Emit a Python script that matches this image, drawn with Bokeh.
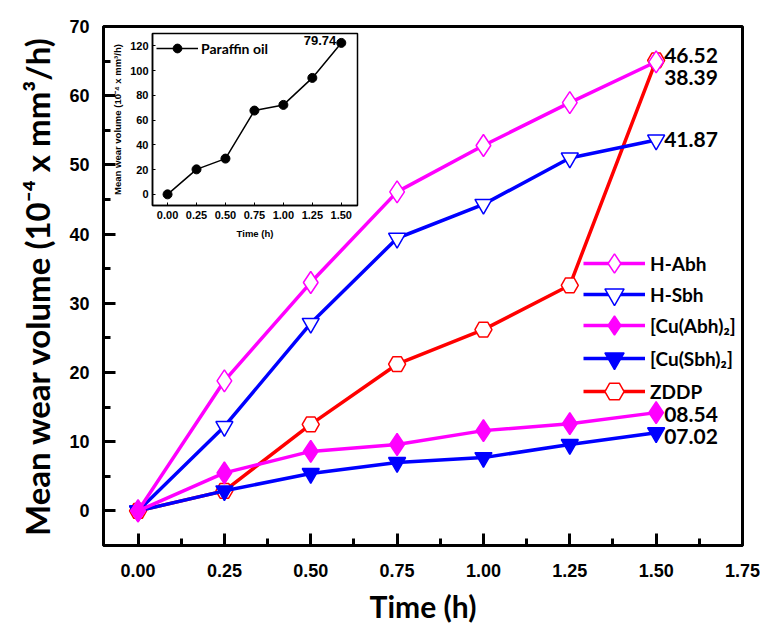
from bokeh.plotting import figure
from bokeh.models import FixedTicker, Legend, LegendItem, ColumnDataSource
from bokeh.layouts import column
from bokeh.embed import file_html
from bokeh.resources import INLINE
from bokeh.core.properties import value

# ---------------- data ----------------
time_h = [0.0, 0.25, 0.5, 0.75, 1.0, 1.25, 1.5]
h_abh = [0.0, 18.8, 33.0, 46.1, 52.8, 59.0, 64.9]
h_sbh = [0.0, 12.2, 27.1, 39.4, 44.3, 51.0, 53.6]
cu_abh = [0.0, 5.5, 8.6, 9.6, 11.6, 12.6, 14.2]
cu_sbh = [0.0, 2.9, 5.4, 7.0, 7.7, 9.6, 11.3]
zddp = [0.0, 2.9, 12.5, 21.2, 26.2, 32.6, 65.1]
paraffin = [0.0, 20.2, 28.9, 67.7, 72.3, 94.1, 122.4]

series_names = ["H-Abh", "H-Sbh", "[Cu(Abh)\u2082]", "[Cu(Sbh)\u2082]", "ZDDP"]
end_labels_top = ["46.52", "38.39"]
end_labels_h_sbh = ["41.87"]
end_labels_cu_abh = ["08.54"]
end_labels_cu_sbh = ["07.02"]
paraffin_label = ["79.74"]

x_ticks = [0.0, 0.25, 0.5, 0.75, 1.0, 1.25, 1.5, 1.75]
y_ticks = [0, 10, 20, 30, 40, 50, 60, 70]
inset_x_ticks = [0.0, 0.25, 0.5, 0.75, 1.0, 1.25, 1.5]
inset_y_ticks = [0, 20, 40, 60, 80, 100, 120]

MAG = "#FF00FF"
BLU = "#0000FF"
RED = "#FF0000"
TICK_FONT = "Liberation Sans"
LAB_FONT = "Lato"

# ---------------- main figure ----------------
p = figure(width=760, height=626, x_range=(-0.1, 1.75), y_range=(-5, 70),
           output_backend="svg", toolbar_location=None,
           min_border_left=103, min_border_right=18, min_border_top=26, min_border_bottom=79)
p.xgrid.visible = False
p.ygrid.visible = False
p.outline_line_color = "black"
p.outline_line_width = 3
p.outline_line_alpha = 1

for ax in (p.xaxis, p.yaxis):
    ax.axis_line_width = 3
    ax.major_tick_in = 12
    ax.major_tick_out = 0
    ax.minor_tick_in = 7
    ax.minor_tick_out = 0
    ax.major_tick_line_width = 3
    ax.minor_tick_line_width = 3
    ax.major_label_text_font = TICK_FONT
    ax.major_label_text_font_style = "bold"
    ax.major_label_text_font_size = "18px"
    ax.major_label_text_color = "black"
    ax.axis_label_text_font = LAB_FONT
    ax.axis_label_text_font_style = "bold"
    ax.axis_label_text_color = "black"

p.xaxis.axis_label_text_font_size = "30px"
p.yaxis.axis_label_text_font_size = "33px"
p.xaxis.ticker = FixedTicker(ticks=x_ticks, minor_ticks=[t + 0.125 for t in x_ticks[:-1]])
p.yaxis.ticker = FixedTicker(ticks=y_ticks, minor_ticks=[t + 5 for t in y_ticks[:-1]])
p.xaxis.major_label_overrides = {t: f"{t:.2f}" for t in x_ticks}
p.xaxis.major_label_standoff = 18
p.yaxis.major_label_standoff = 14
p.xaxis.axis_label = "Time (h)"
p.yaxis.axis_label = "Mean wear volume (10\u207b\u2074 x mm\u00b3/h)"
p.xaxis.axis_label_standoff = 8
p.yaxis.axis_label_standoff = 9

src = ColumnDataSource(dict(t=time_h, habh=h_abh, hsbh=h_sbh, cabh=cu_abh, csbh=cu_sbh, zd=zddp))

def series(col, color, marker, size, filled):
    ln = p.line("t", col, source=src, line_color=color, line_width=3.5)
    sc = p.scatter("t", col, source=src, marker=marker, size=size,
                   line_color=color, line_width=1.5,
                   fill_color=color if filled else "white")
    return [ln, sc]

r_zd = series("zd", RED, "hex", 17, False)
r_hsbh = series("hsbh", BLU, "inverted_triangle", 17, False)
r_csbh = series("csbh", BLU, "inverted_triangle", 17, True)
r_habh = series("habh", MAG, "diamond", 22, False)
r_cabh = series("cabh", MAG, "diamond", 22, True)

# one legend box per entry so that the legend markers can be large
legend_entries = [(series_names[0], r_habh, 258), (series_names[1], r_hsbh, 227),
                  (series_names[2], r_cabh, 196), (series_names[3], r_csbh, 163),
                  (series_names[4], r_zd, 130)]
for name, rends, ypos in legend_entries:
    lg = Legend(items=[LegendItem(label=name, renderers=rends)],
                location=(480, ypos), border_line_alpha=0, background_fill_alpha=0,
                glyph_width=62, glyph_height=48, label_standoff=5, padding=0, margin=0,
                label_text_font=LAB_FONT, label_text_font_style="bold",
                label_text_font_size="19px", label_text_color="black",
                label_text_baseline="middle")
    p.add_layout(lg)

lab_kw = dict(text_font=value(LAB_FONT), text_font_style="bold", text_font_size="21px",
              text_color="black", text_baseline="middle", text_align="left")
p.text(x=[time_h[-1]], y=[h_abh[-1]], text=[end_labels_top[0]], x_offset=8, y_offset=-6, **lab_kw)
p.text(x=[time_h[-1]], y=[h_abh[-1]], text=[end_labels_top[1]], x_offset=8, y_offset=16, **lab_kw)
p.text(x=[time_h[-1]], y=[h_sbh[-1]], text=end_labels_h_sbh, x_offset=8, y_offset=0, **lab_kw)
p.text(x=[time_h[-1]], y=[cu_abh[-1]], text=end_labels_cu_abh, x_offset=8, y_offset=2, **lab_kw)
p.text(x=[time_h[-1]], y=[cu_sbh[-1]], text=end_labels_cu_sbh, x_offset=8, y_offset=4, **lab_kw)

# ---------------- inset figure ----------------
# (frame borders are aligned with the main figure by the column layout)
ins = figure(width=326, height=217, x_range=(-0.13, 1.64), y_range=(-9, 130),
             output_backend="svg", toolbar_location=None, sizing_mode="fixed",
             min_border_left=103, min_border_right=18, min_border_top=5, min_border_bottom=40)
ins.background_fill_alpha = 0
ins.border_fill_alpha = 0
ins.xgrid.visible = False
ins.ygrid.visible = False
ins.outline_line_color = "black"
ins.outline_line_width = 1.5
for ax in (ins.xaxis, ins.yaxis):
    ax.axis_line_width = 1.5
    ax.major_tick_in = 3
    ax.major_tick_out = 0
    ax.minor_tick_in = 0
    ax.minor_tick_out = 0
    ax.major_label_text_font = TICK_FONT
    ax.major_label_text_font_style = "bold"
    ax.major_label_text_font_size = "11px"
    ax.major_label_text_color = "black"
    ax.axis_label_text_font = TICK_FONT
    ax.axis_label_text_font_style = "bold"
    ax.axis_label_text_font_size = "9.5px"
    ax.axis_label_text_color = "black"
    ax.major_label_standoff = 5
    ax.axis_label_standoff = 6
ins.yaxis.major_label_standoff = 4
ins.yaxis.axis_label_standoff = 4
ins.xaxis.ticker = FixedTicker(ticks=inset_x_ticks)
ins.yaxis.ticker = FixedTicker(ticks=inset_y_ticks)
ins.xaxis.major_label_overrides = {t: f"{t:.2f}" for t in inset_x_ticks}
ins.xaxis.axis_label = "Time (h)"
ins.yaxis.axis_label = "Mean wear volume (10\u207b\u2074 x mm\u00b3/h)"

isrc = ColumnDataSource(dict(t=time_h, v=paraffin))
il = ins.line("t", "v", source=isrc, line_color="black", line_width=1.5)
isc = ins.scatter("t", "v", source=isrc, marker="circle", size=9, fill_color="black", line_color="black")
ileg = Legend(items=[LegendItem(label="Paraffin oil", renderers=[il, isc])],
              location="top_left", border_line_alpha=0, background_fill_alpha=0,
              glyph_width=42, glyph_height=22, label_standoff=3, padding=2, margin=2,
              label_text_font=LAB_FONT, label_text_font_style="bold",
              label_text_font_size="14px", label_text_color="black")
ins.add_layout(ileg)
ins.text(x=[time_h[-1]], y=[paraffin[-1]], text=paraffin_label, x_offset=-5, y_offset=-2,
         text_font=value(TICK_FONT), text_font_style="bold", text_font_size="13px",
         text_color="black", text_align="right", text_baseline="middle")

ins.margin = (-598, 0, 0, 49)

layout = column(p, ins)
open("out.html", "w").write(file_html(layout, INLINE))
